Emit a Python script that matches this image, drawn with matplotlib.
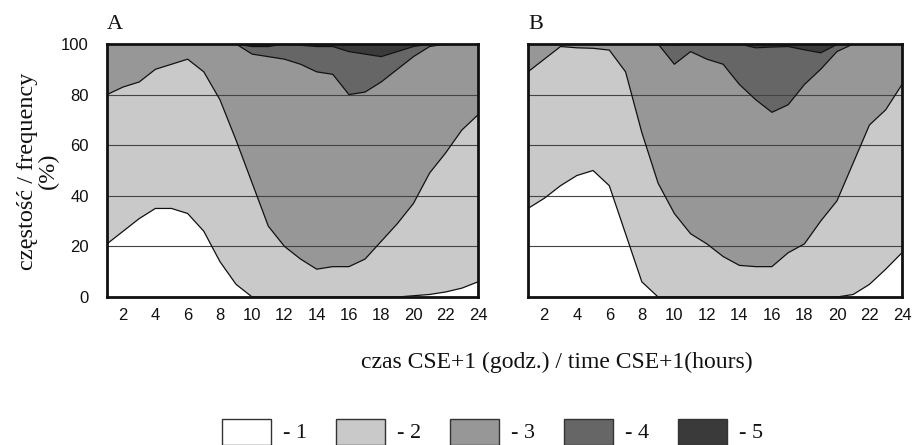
import matplotlib
matplotlib.use("Agg")
import matplotlib.pyplot as plt
from matplotlib.patches import Rectangle
import numpy as np

hours = list(range(1, 25))

# Cumulative class boundaries (%), panel A
A_b1 = [21, 26, 31, 35, 35, 33, 26, 14, 5, 0, 0, 0, 0, 0, 0, 0, 0, 0, 0, 0.5, 1, 2, 3.5, 6]
A_b2 = [80, 83, 85, 90, 92, 94, 89, 78, 62, 45, 28, 20, 15, 11, 12, 12, 15, 22, 29, 37, 49, 57, 66, 72]
A_b3 = [100, 100, 100, 100, 100, 100, 100, 100, 100, 96, 95, 94, 92, 89, 88, 80, 81, 85, 90, 95, 99, 100, 100, 100]
A_b4 = [100, 100, 100, 100, 100, 100, 100, 100, 100, 99, 99, 100, 99.5, 99, 99, 97, 96, 95, 97, 99, 100, 100, 100, 100]

# Panel B
B_b1 = [35, 39, 44, 48, 50, 44, 25, 6, 0, 0, 0, 0, 0, 0, 0, 0, 0, 0, 0, 0, 1, 5, 11, 17.5]
B_b2 = [89, 94, 99, 98.5, 98.3, 97.6, 89, 65, 45, 33, 25, 21, 16, 12.5, 12, 12, 17.5, 21, 30, 38, 53, 68, 74, 84]
B_b3 = [100, 100, 100, 100, 100, 100, 100, 100, 100, 92, 97, 94, 92, 84, 78, 73, 76, 84, 90, 97, 100, 100, 100, 100]
B_b4 = [100, 100, 100, 100, 100, 100, 100, 100, 100, 99.5, 100, 100, 100, 100, 98.5, 98.8, 99, 97.7, 96.5, 99.8, 100, 100, 100, 100]

classes = ["- 1", "- 2", "- 3", "- 4", "- 5"]
colors = ["#ffffff", "#c9c9c9", "#979797", "#666666", "#3a3a3a"]
xticks = list(range(2, 25, 2))
yticks = [0, 20, 40, 60, 80, 100]
vgrid = [6, 12, 18]
panel_titles = ["A", "B"]

serif = ["Liberation Serif", "DejaVu Serif"]
sans = ["Liberation Sans", "DejaVu Sans"]

W, H = 913, 445
fig = plt.figure(figsize=(W / 100, H / 100), dpi=100)

def rect(x0, x1, y0, y1):
    return [x0 / W, 1 - y1 / H, (x1 - x0) / W, (y1 - y0) / H]

axA = fig.add_axes(rect(107, 478, 44, 297))
axB = fig.add_axes(rect(528, 902, 44, 297))

def draw(ax, b1, b2, b3, b4, title, show_y):
    x = np.array(hours)
    layers = [np.zeros(len(x)), np.array(b1), np.array(b2), np.array(b3), np.array(b4), np.full(len(x), 100.0)]
    for i in range(5):
        ax.fill_between(x, layers[i], layers[i + 1], facecolor=colors[i], edgecolor="none", zorder=1)
    for b in layers[1:5]:
        ax.plot(x, b, color="#111111", lw=0.9, zorder=3)
    ax.set_xlim(1, 24)
    ax.set_ylim(0, 100)
    ax.set_xticks(xticks)
    ax.set_xticks(vgrid, minor=True)
    ax.set_yticks(yticks)
    ax.grid(False)
    ax.xaxis.grid(True, which="minor", color="#222222", lw=0.9, zorder=2)
    ax.yaxis.grid(True, which="major", color="#444444", lw=0.8, zorder=2)
    ax.set_axisbelow(False)
    ax.tick_params(axis="both", which="both", length=0)
    ax.tick_params(axis="x", pad=8, labelsize=12)
    ax.tick_params(axis="y", pad=13, labelsize=12)
    for lab in ax.get_xticklabels() + ax.get_yticklabels():
        lab.set_family(sans)
        lab.set_color("#111111")
    if not show_y:
        ax.set_yticklabels([])
    for s in ax.spines.values():
        s.set_linewidth(2.0)
        s.set_color("#111111")
        s.set_zorder(5)
    ax.text(0.0, (297 - 29) / 253, title, transform=ax.transAxes, fontsize=16, family=serif,
            ha="left", va="baseline", color="#111111")

draw(axA, A_b1, A_b2, A_b3, A_b4, panel_titles[0], True)
draw(axB, B_b1, B_b2, B_b3, B_b4, panel_titles[1], False)

fig.text(38 / W, 1 - 171 / H, "częstość / frequency\n(%)", rotation=90, ha="center", va="center",
         fontsize=17.5, family=serif, color="#111111", linespacing=1.0)
fig.text(557 / W, 1 - 362 / H, "czas CSE+1 (godz.) / time CSE+1(hours)", ha="center", va="center",
         fontsize=17, family=serif, color="#111111")

# legend
for i, (lab, c) in enumerate(zip(classes, colors)):
    x0 = 222 + i * 114
    fig.add_artist(Rectangle((x0 / W, 0), 49 / W, (445 - 419) / H, transform=fig.transFigure,
                             facecolor=c, edgecolor="#333333", lw=1.0))
    fig.text((x0 + 61) / W, 1 - 433 / H, lab, ha="left", va="center", fontsize=16,
             family=serif, color="#111111")

fig.savefig("out.png", dpi=100)
